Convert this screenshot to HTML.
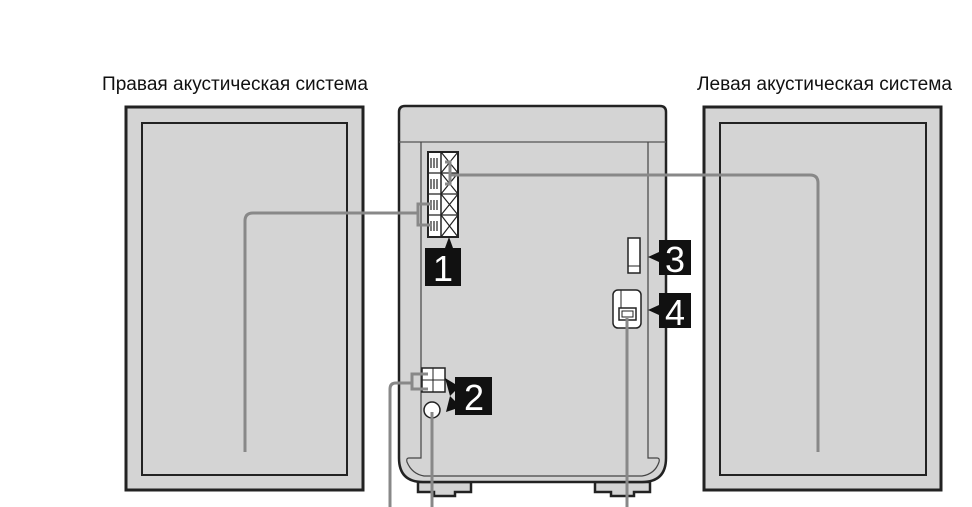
<!DOCTYPE html>
<html><head><meta charset="utf-8"><style>
html,body{margin:0;padding:0;background:#fff;}
svg{display:block}
text{font-family:"Liberation Sans",sans-serif}
</style></head><body>
<svg width="972" height="507" viewBox="0 0 972 507" xmlns="http://www.w3.org/2000/svg">
<text x="102" y="90" font-size="16" fill="#111" textLength="266" lengthAdjust="spacingAndGlyphs" style="font-size:19px">Правая акустическая система</text>
<text x="697" y="90" font-size="16" fill="#111" textLength="255" lengthAdjust="spacingAndGlyphs" style="font-size:19px">Левая акустическая система</text>
<!-- left speaker -->
<rect x="126" y="107" width="237" height="383" fill="#d4d4d4" stroke="#222" stroke-width="3"/>
<rect x="142" y="123" width="205" height="352" fill="#d4d4d4" stroke="#222" stroke-width="2"/>
<!-- right speaker -->
<rect x="704" y="107" width="237" height="383" fill="#d4d4d4" stroke="#222" stroke-width="3"/>
<rect x="720" y="123" width="206" height="352" fill="#d4d4d4" stroke="#222" stroke-width="2"/>
<!-- main unit -->
<path d="M418 482 L418 492 L434 492 L434 496 L455 496 L455 492 L471 492 L471 482 Z" fill="#d4d4d4" stroke="#222" stroke-width="2.5"/>
<path d="M595 482 L595 492 L611 492 L611 496 L634 496 L634 492 L650 492 L650 482 Z" fill="#d4d4d4" stroke="#222" stroke-width="2.5"/>
<path d="M405 106 L660 106 Q666 106 666 112 L666 458 Q666 482 642 482 L423 482 Q399 482 399 458 L399 112 Q399 106 405 106 Z" fill="#d4d4d4" stroke="#222" stroke-width="2.5"/>
<line x1="399" y1="142" x2="666" y2="142" stroke="#555" stroke-width="1.2"/>
<path d="M421 142 L421 458 L409 458 Q406 458 407 462 Q412 474 424 476 L642 476 Q655 474 659 462 Q660 458 657 458 L648 458 L648 142" fill="none" stroke="#444" stroke-width="1.2"/>
<!-- terminal block 1 -->
<rect x="428" y="152" width="30" height="85" fill="#fff" stroke="#222" stroke-width="2"/>
<line x1="441" y1="152" x2="441" y2="237" stroke="#222" stroke-width="1.5"/>
<g stroke="#222" stroke-width="1.2" fill="none">
<line x1="428" y1="173" x2="458" y2="173"/><line x1="428" y1="194" x2="458" y2="194"/><line x1="428" y1="215" x2="458" y2="215"/>
<path d="M441 152 L458 173 M458 152 L441 173 M441 173 L458 194 M458 173 L441 194 M441 194 L458 215 M458 194 L441 215 M441 215 L458 237 M458 215 L441 237"/>
<path d="M431 158v10M434 158v10M437 158v10M431 179v10M434 179v10M437 179v10M431 200v10M434 200v10M437 200v10M431 221v10M434 221v10M437 221v10"/>
</g>
<path d="M449 237 L445 248 L453 248 Z" fill="#111"/>
<rect x="425" y="248" width="36" height="38" fill="#111"/>
<text x="443" y="281" font-size="36" fill="#fff" text-anchor="middle">1</text>
<!-- 3 switch -->
<rect x="628" y="238" width="12" height="35" fill="#fff" stroke="#222" stroke-width="1.5"/>
<line x1="628" y1="266" x2="640" y2="266" stroke="#222"/>
<rect x="659" y="240" width="32" height="35" fill="#111"/>
<path d="M648 257 L659 252 L659 262 Z" fill="#111"/>
<text x="675" y="272" font-size="36" fill="#fff" text-anchor="middle">3</text>
<!-- 4 outlet -->
<rect x="613" y="290" width="28" height="38" rx="5" fill="#fff" stroke="#222" stroke-width="1.5"/>
<line x1="621" y1="290" x2="621" y2="308" stroke="#222"/>
<rect x="619" y="308" width="17" height="12" fill="#fff" stroke="#222" stroke-width="1.5"/>
<rect x="622" y="311" width="11" height="6" fill="none" stroke="#222"/>
<rect x="659" y="293" width="32" height="35" fill="#111"/>
<path d="M648 310 L659 305 L659 315 Z" fill="#111"/>
<text x="675" y="325" font-size="36" fill="#fff" text-anchor="middle">4</text>
<!-- terminal 2 -->
<rect x="422" y="368" width="23" height="24" fill="#fff" stroke="#222" stroke-width="1.5"/>
<line x1="433" y1="368" x2="433" y2="392" stroke="#222"/>
<line x1="422" y1="380" x2="445" y2="380" stroke="#222"/>
<circle cx="432" cy="410" r="8" fill="#fff" stroke="#222" stroke-width="1.5"/>
<rect x="455" y="377" width="37" height="38" fill="#111"/>
<path d="M445 378 L455 384 L455 391 L450 396 L455 401 L455 409 L446 412 L450 396 Z" fill="#111"/>
<text x="474" y="410" font-size="36" fill="#fff" text-anchor="middle">2</text>
<!-- cables -->
<g stroke="#888" stroke-width="3" fill="none">
<path d="M445 162 L450 162 L450 175 L810 175 Q818 175 818 183 L818 452"/>
<path d="M450 175 L450 184 L445 184"/>
<path d="M432 204 L418 204 L418 213 L253 213 Q245 213 245 221 L245 452"/>
<path d="M418 213 L418 225 L432 225"/>
<path d="M428 374 L412 374 L412 383 L396 383 Q390 383 390 389 L390 507"/>
<path d="M412 383 L412 389 L428 389"/>
<path d="M432 412 L432 507"/>
<path d="M627 318 L627 507"/>
</g>
</svg>
</body></html>
